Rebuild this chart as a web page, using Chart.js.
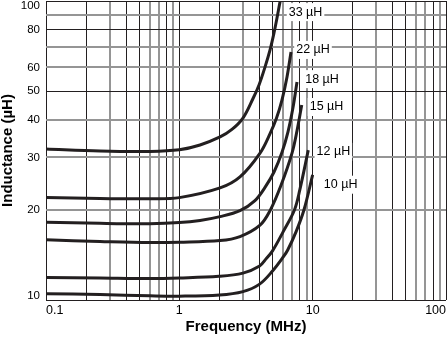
<!DOCTYPE html>
<html>
<head>
<meta charset="utf-8">
<script src="https://cdn.jsdelivr.net/npm/chart.js@4/dist/chart.umd.min.js"></script>
<style>
html,body{margin:0;padding:0;background:#fff;}
canvas{display:block;}
</style>
</head>
<body>
<canvas id="c" width="448" height="342"></canvas>
<script>
// ---- data ----
const seriesNames = ['33 µH', '22 µH', '18 µH', '15 µH', '12 µH', '10 µH'];

const freq33 = [0.1, 0.254, 0.6, 1.0, 1.43, 2.02, 2.48, 3.0, 3.57, 3.96, 4.39, 4.79, 5.13, 5.4, 5.69, 5.8];
const ind33  = [32.0, 31.5, 31.4, 31.8, 33.0, 35.1, 37.2, 40.6, 47.2, 52.4, 60.1, 68.6, 78.2, 87.7, 99.3, 103];

const freq22 = [0.1, 0.254, 0.6, 1.0, 2.02, 2.85, 4.03, 4.79, 5.35, 5.89, 6.42, 6.88];
const ind22  = [22.0, 21.85, 21.8, 22.0, 23.7, 25.8, 31.0, 36.0, 40.5, 46.7, 55.7, 67.5];

const freq18 = [0.1, 0.254, 0.6, 1.0, 1.43, 2.02, 2.85, 3.69, 4.39, 5.13, 5.89, 6.53, 7.12, 7.63];
const ind18  = [18.2, 18.05, 18.0, 18.15, 18.45, 19.0, 19.9, 21.5, 23.8, 26.8, 31.2, 36.5, 44.0, 53.6];

const freq15 = [0.1, 0.254, 0.6, 1.0, 2.02, 2.85, 4.03, 4.79, 5.79, 7.0, 7.63, 8.28];
const ind15  = [15.9, 15.7, 15.56, 15.6, 15.8, 16.3, 17.8, 19.9, 24.2, 31.0, 36.8, 44.9];

const freq12 = [0.1, 0.254, 0.6, 1.0, 1.98, 3.0, 4.0, 4.45, 5.0, 6.0, 7.3, 8.0, 9.27];
const ind12  = [11.9, 11.85, 11.8, 11.85, 12.0, 12.3, 13.0, 13.7, 14.6, 16.9, 20.0, 23.3, 31.7];

const freq10 = [0.1, 0.254, 0.6, 1.0, 2.0, 3.0, 4.0, 5.0, 6.0, 6.5, 7.5, 8.6, 10.0];
const ind10  = [10.5, 10.43, 10.33, 10.3, 10.39, 10.67, 11.3, 12.5, 13.9, 14.7, 16.9, 20.0, 26.2];

// label anchor (centre of each curve label) in data units
const labelFreq = [8.84, 10.06, 11.75, 12.7, 14.3, 16.2];
const labelInd  = [91.8, 68.6, 54.8, 44.2, 31.3, 24.3];

// axes
const xGridValues = [0.1, 0.2, 0.3, 0.4, 0.5, 0.6, 0.7, 0.8, 0.9,
                     1, 2, 3, 4, 5, 6, 7, 8, 9,
                     10, 20, 30, 40, 50, 60, 70, 80, 90, 100];
const xLabelValues = [0.1, 1, 10, 100];
const xLabels = ['0.1', '1', '10', '100'];
const yGridValues = [10, 20, 30, 40, 50, 60, 70, 80, 90, 100];
const yLabelValues = [10, 20, 30, 40, 50, 60, 80, 100];
const yLabels = ['10', '20', '30', '40', '50', '60', '80', '100'];

// ---- chart ----
const FONT = "'Liberation Sans', Arial, Helvetica, sans-serif";
const INK = '#231f20';
const GRAYLINE = '#959595';

const freqs = [freq33, freq22, freq18, freq15, freq12, freq10];
const inds = [ind33, ind22, ind18, ind15, ind12, ind10];

const datasets = seriesNames.map((name, i) => ({
  label: name,
  data: freqs[i].map((f, j) => ({x: f, y: inds[i][j]})),
  borderColor: INK,
  borderWidth: 3,
  pointRadius: 0,
  fill: false,
  tension: 0.35,
  borderCapStyle: 'butt',
  borderJoinStyle: 'round'
}));

function mantissa(v) {
  const e = Math.floor(Math.log10(v) + 1e-9);
  return Math.round(v / Math.pow(10, e));
}
const near = (a, b) => Math.abs(a - b) <= 1e-9 * Math.max(1, Math.abs(b));

function xIsGray(v) { return [3, 6, 7, 9].includes(mantissa(v)); }
function yIsGray(v) { return [20, 30, 40, 60, 70, 90].some(g => near(v, g)); }

const curveLabels = {
  id: 'curveLabels',
  afterDatasetsDraw(chart) {
    const {ctx, scales} = chart;
    ctx.save();
    ctx.font = '12.5px ' + FONT;
    ctx.textAlign = 'center';
    ctx.textBaseline = 'middle';
    seriesNames.forEach((t, i) => {
      const x = scales.x.getPixelForValue(labelFreq[i]);
      const y = scales.y.getPixelForValue(labelInd[i]);
      const w = ctx.measureText(t).width;
      ctx.fillStyle = '#fff';
      ctx.fillRect(x - w / 2 - 2, y - 9, w + 4, 18);
      ctx.fillStyle = '#000';
      ctx.fillText(t, x, y);
    });
    ctx.restore();
  }
};

new Chart(document.getElementById('c'), {
  type: 'line',
  data: {datasets},
  plugins: [curveLabels],
  options: {
    responsive: false,
    devicePixelRatio: 1,
    animation: false,
    layout: {padding: {top: 1, right: 2, left: 0, bottom: 0}},
    plugins: {legend: {display: false}, tooltip: {enabled: false}},
    scales: {
      x: {
        type: 'logarithmic',
        min: 0.1, max: 100,
        afterBuildTicks: s => { s.ticks = xGridValues.map(v => ({value: v})); },
        afterFit: s => { s.height = 42; s.paddingLeft = 0; s.paddingRight = 0; },
        border: {display: false},
        grid: {
          drawTicks: false,
          color: c => xIsGray(c.tick.value) ? GRAYLINE : INK,
          lineWidth: c => xIsGray(c.tick.value) ? 2 : 1
        },
        ticks: {
          autoSkip: false, maxRotation: 0, minRotation: 0,
          padding: 3,
          color: '#000',
          font: {family: FONT, size: 12.5},
          callback: (value) => {
            const k = xLabelValues.findIndex(v => near(value, v));
            if (k < 0) return '';
            let s = xLabels[k];
            if (k === 0) s = '     ' + s;
            if (k === xLabels.length - 1) s = s + '      ';
            return s;
          }
        },
        title: {
          display: true, text: 'Frequency (MHz)', color: '#000',
          font: {family: FONT, size: 15, weight: 'bold', lineHeight: 1},
          padding: {top: 0, bottom: 8}
        }
      },
      y: {
        type: 'logarithmic',
        min: 10, max: 100,
        afterBuildTicks: s => { s.ticks = yGridValues.map(v => ({value: v})); },
        afterFit: s => { s.width = 46; s.paddingTop = 0; s.paddingBottom = 0; },
        border: {display: false},
        grid: {
          drawTicks: false,
          color: c => yIsGray(c.tick.value) ? GRAYLINE : INK,
          lineWidth: c => yIsGray(c.tick.value) ? 2 : 1
        },
        ticks: {
          autoSkip: false,
          padding: 6,
          color: '#000',
          font: {family: FONT, size: 11.5, lineHeight: '9px'},
          callback: (value) => {
            const k = yLabelValues.findIndex(v => near(value, v));
            if (k < 0) return '';
            const s = yLabels[k];
            if (k === yLabels.length - 1) return ['', s];
            if (k === 0) return [s, ''];
            return s;
          }
        },
        title: {
          display: true, text: 'Inductance (µH)', color: '#000',
          font: {family: FONT, size: 15, weight: 'bold', lineHeight: 1},
          padding: {top: 0, bottom: 0}
        }
      }
    }
  }
});
</script>
</body>
</html>
